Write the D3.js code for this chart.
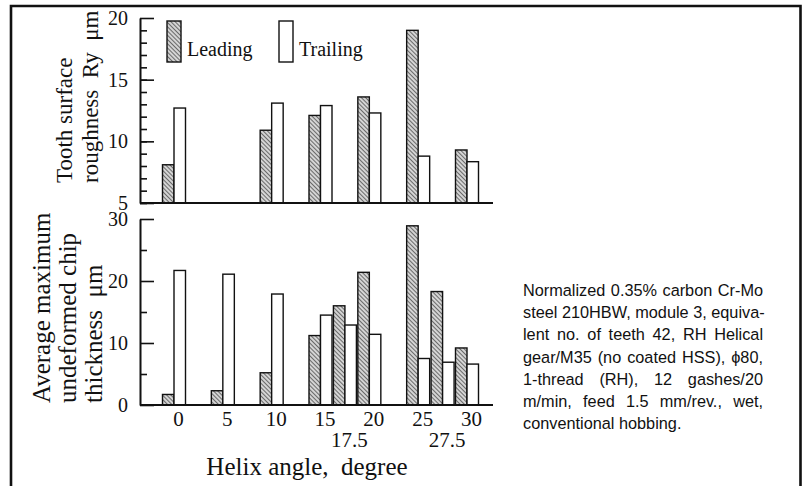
<!DOCTYPE html>
<html>
<head>
<meta charset="utf-8">
<script src="https://cdn.jsdelivr.net/npm/d3@7"></script>
<style>
  body { margin: 0; background: #fff; }
  svg { display: block; }
</style>
</head>
<body>
<div id="chart"></div>
<script>
// helix angles (degree)
const anglesTop = [0, 10, 15, 20, 25, 30]
const anglesBottom = [0, 5, 10, 15, 17.5, 20, 25, 27.5, 30]

// tooth surface roughness Ry (um)
const roughLeading = [8.1, 10.9, 12.1, 13.6, 19.0, 9.3]
const roughTrailing = [12.7, 13.1, 12.9, 12.3, 8.8, 8.35]

// average maximum undeformed chip thickness (um)
const chipLeading = [1.7, 2.3, 5.2, 11.2, 16.0, 21.4, 28.9, 18.3, 9.2]
const chipTrailing = [21.7, 21.1, 17.9, 14.5, 12.9, 11.4, 7.5, 6.9, 6.6]

const xTicksRow1 = [0, 5, 10, 15, 20, 25, 30]
const xTicksRow2 = [17.5, 27.5]
const roughTicks = [5, 10, 15, 20]
const chipTicks = [0, 10, 20, 30]

const caption = [
  'Normalized 0.35% carbon Cr-Mo',
  'steel 210HBW, module 3, equiva-',
  'lent no. of teeth 42, RH Helical',
  'gear/M35 (no coated HSS), \u03d580,',
  '1-thread (RH), 12 gashes/20',
  'm/min, feed 1.5 mm/rev., wet,',
  'conventional hobbing.'
]

const width = 805, height = 486
const serif = '"Liberation Serif", "Times New Roman", serif'
const axisX = 140, baseEnd = 493
const barW = 11.5

const svg = d3.select('#chart').append('svg')
  .attr('width', width)
  .attr('height', height)

// hatch for leading bars
const pat = svg.append('defs').append('pattern')
  .attr('id', 'hatch')
  .attr('patternUnits', 'userSpaceOnUse')
  .attr('width', 3)
  .attr('height', 3)
  .attr('patternTransform', 'rotate(-45)')
pat.append('rect').attr('width', 3).attr('height', 3).attr('fill', '#d4d4d4')
pat.append('line').attr('x1', 0.5).attr('x2', 0.5).attr('y1', 0).attr('y2', 3)
  .attr('stroke', '#6a6a6a').attr('stroke-width', 1)

// frame
svg.append('path')
  .attr('d', 'M11,486 V6 H800.5 V486')
  .attr('fill', 'none')
  .attr('stroke', '#111')
  .attr('stroke-width', 2.6)

const x = d3.scaleLinear().domain([0, 30]).range([174, 467])
const yTop = d3.scaleLinear().domain([5, 20]).range([203, 18])
const yBot = d3.scaleLinear().domain([0, 30]).range([405, 219])

function yAxis(scale, major, minor) {
  const g = svg.append('g').attr('transform', 'translate(' + axisX + ',0)')
  g.call(d3.axisLeft(scale).tickValues(minor).tickSize(-7).tickSizeOuter(0).tickFormat(''))
  g.append('g').call(d3.axisLeft(scale).tickValues(major).tickSize(-14).tickSizeOuter(0).tickPadding(12))
  g.selectAll('path, line').attr('stroke', '#111').attr('stroke-width', 1.6)
  g.selectAll('text')
    .attr('font-family', serif)
    .attr('font-size', 20)
    .attr('fill', '#111')
}

function bars(angles, lead, trail, scale, base) {
  const g = svg.append('g')
  g.selectAll('.lead').data(angles).enter().append('rect')
    .attr('x', d => x(d) - barW)
    .attr('y', (d, i) => scale(lead[i]))
    .attr('width', barW)
    .attr('height', (d, i) => scale(base) - scale(lead[i]))
    .attr('fill', 'url(#hatch)')
    .attr('stroke', '#111')
    .attr('stroke-width', 1.4)
  g.selectAll('.trail').data(angles).enter().append('rect')
    .attr('x', d => x(d))
    .attr('y', (d, i) => scale(trail[i]))
    .attr('width', barW)
    .attr('height', (d, i) => scale(base) - scale(trail[i]))
    .attr('fill', '#fff')
    .attr('stroke', '#111')
    .attr('stroke-width', 1.4)
  // baseline
  svg.append('line')
    .attr('x1', axisX).attr('x2', baseEnd)
    .attr('y1', scale(base)).attr('y2', scale(base))
    .attr('stroke', '#111')
    .attr('stroke-width', 1.8)
}

bars(anglesTop, roughLeading, roughTrailing, yTop, 5)
bars(anglesBottom, chipLeading, chipTrailing, yBot, 0)
yAxis(yTop, roughTicks, d3.range(5, 20, 1))
yAxis(yBot, chipTicks, [5, 15, 25])

// x tick labels (two rows)
function xRow(vals, yPos) {
  const g = svg.append('g').attr('transform', 'translate(4,' + yPos + ')')
    .call(d3.axisBottom(x).tickValues(vals).tickSize(0).tickPadding(0).tickFormat(d => d))
  g.select('.domain').remove()
  g.selectAll('text')
    .attr('font-family', serif)
    .attr('font-size', 21)
    .attr('fill', '#111')
}
xRow(xTicksRow1, 411)
xRow(xTicksRow2, 432)

svg.append('text')
  .attr('x', 307).attr('y', 475)
  .attr('text-anchor', 'middle')
  .attr('font-family', serif)
  .attr('font-size', 25)
  .attr('fill', '#111')
  .style('white-space', 'pre')
  .text('Helix angle,  degree')

// y labels
function yLabel(lines, startY, baseX, size) {
  lines.forEach((t, i) => {
    svg.append('text')
      .attr('transform', 'translate(' + (baseX + i * 26) + ',' + startY + ') rotate(-90)')
      .attr('font-family', serif)
      .attr('font-size', size)
      .attr('fill', '#111')
      .style('white-space', 'pre')
      .text(t)
  })
}
yLabel(['Tooth surface', 'roughness  Ry  \u03bcm'], 183, 72, 23)
yLabel(['Average maximum', 'undeformed chip', 'thickness  \u03bcm'], 403, 50, 25)

// legend
const legend = [
  { name: 'Leading', fill: 'url(#hatch)', x: 167 },
  { name: 'Trailing', fill: '#fff', x: 279 }
]
legend.forEach(d => {
  svg.append('rect')
    .attr('x', d.x).attr('y', 21)
    .attr('width', 14).attr('height', 41)
    .attr('fill', d.fill)
    .attr('stroke', '#111')
    .attr('stroke-width', 1.4)
  svg.append('text')
    .attr('x', d.x + 20).attr('y', 56)
    .attr('font-family', serif)
    .attr('font-size', 20)
    .attr('fill', '#111')
    .text(d.name)
})

// caption, justified to 240px
const capX = 523, capW = 240
caption.forEach((t, i) => {
  const txt = svg.append('text')
    .attr('x', capX)
    .attr('y', 296 + i * 22.2)
    .attr('font-family', '"Liberation Sans", Arial, sans-serif')
    .attr('font-size', 16.3)
    .attr('fill', '#111')
    .text(t)
  if (i < caption.length - 1) {
    const w = txt.node().getComputedTextLength()
    const spaces = t.split(' ').length - 1
    if (spaces > 0 && w < capW) txt.attr('word-spacing', (capW - w) / spaces)
  }
})
</script>
</body>
</html>
